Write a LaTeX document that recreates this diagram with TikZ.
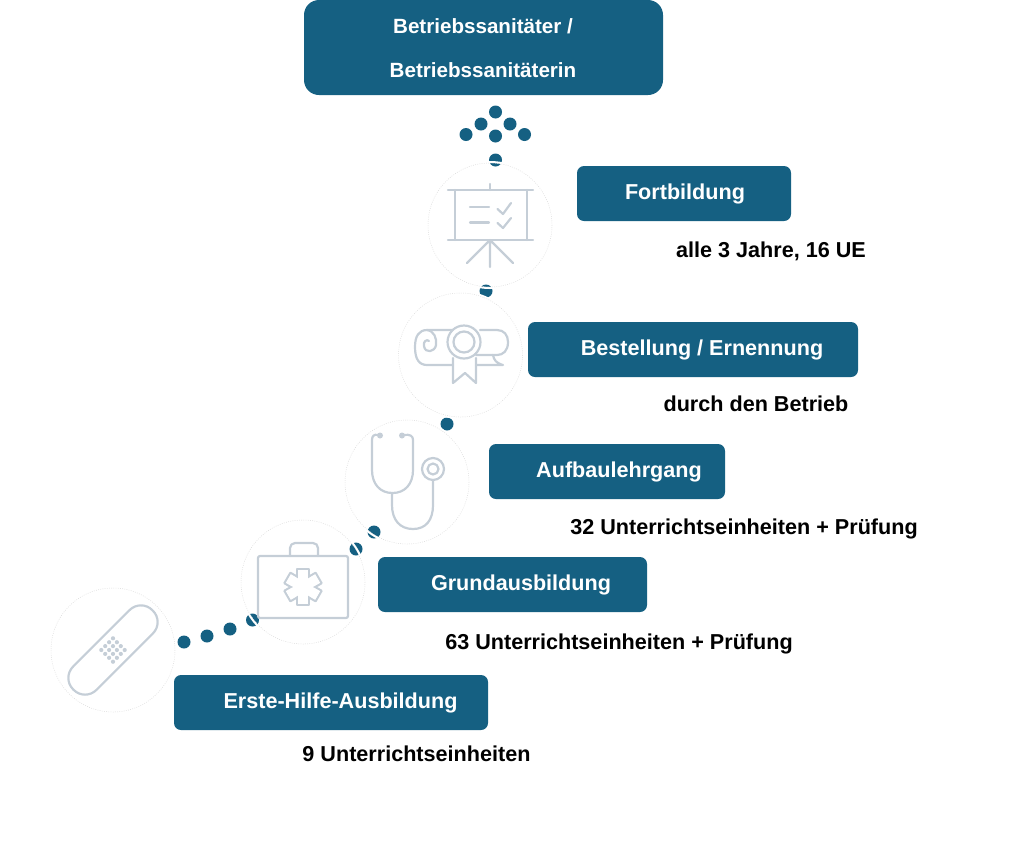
\documentclass[tikz,border=0pt]{standalone}
\usepackage{fontspec}
\usetikzlibrary{calc}
\setmainfont{Liberation Sans}
\definecolor{boxblue}{HTML}{156082}
\definecolor{icon}{HTML}{C5CED7}
\definecolor{ringc}{HTML}{DADADA}
\tikzset{
  bluebox/.style={fill=boxblue,draw=none,rounded corners=7pt,inner sep=0pt},
  boxtext/.style={text=white,font=\fontsize{21.6}{23}\selectfont\bfseries,inner sep=0pt},
  toptext/.style={text=white,font=\fontsize{20.6}{22}\selectfont\bfseries,inner sep=0pt},
  captext/.style={text=black,font=\fontsize{21.6}{23}\selectfont\bfseries,inner sep=0pt},
  pathdot/.style={circle,fill=boxblue,minimum size=13pt,inner sep=0pt},
  halo/.style={draw=white,line width=2pt},
  ring/.style={draw=ringc,line width=0.5pt,dash pattern=on 0.8pt off 1.4pt},
  ico/.style={draw=icon,line width=2.2pt,line cap=round,line join=round}
}
\begin{document}
\begin{tikzpicture}[x=1pt,y=-1pt]
\useasboundingbox (0,0) rectangle (1024,849);
% boxes
\fill[bluebox,rounded corners=15pt] (304,0) rectangle (663,95);
\fill[bluebox] (577,166) rectangle (791,221);
\fill[bluebox] (528,322) rectangle (858,377);
\fill[bluebox] (489,444) rectangle (725,499);
\fill[bluebox] (378,557) rectangle (647,612);
\fill[bluebox] (174,675) rectangle (488,730);
\node[toptext] (t1) at (483,26.5) {Betriebssanitäter /};
\node[toptext] (t2) at (483,70.5) {Betriebssanitäterin};
\node[boxtext] (l1) at (685,194) {Fortbildung};
\node[boxtext] (l2) at (702,349.5) {Bestellung / Ernennung};
\node[boxtext] (l3) at (619,472) {Aufbaulehrgang};
\node[boxtext] (l4) at (521,585) {Grundausbildung};
\node[boxtext] (l5) at (340.5,702.5) {Erste-Hilfe-Ausbildung};
\node[captext] (c1) at (771,251) {alle 3 Jahre, 16 UE};
\node[captext] (c2) at (756,404) {durch den Betrieb};
\node[captext] (c3) at (744,529) {32 Unterrichtseinheiten + Prüfung};
\node[captext] (c4) at (619,644) {63 Unterrichtseinheiten + Prüfung};
\node[captext] (c5) at (416.5,754) {9 Unterrichtseinheiten};
% dots
\foreach \n/\x/\y in {a/495.5/112,b/481/124,c/510/124,d/466/134.5,e/495.5/136,f/524.5/134.5,g/495.5/160,h/486/291,i/447/424,j/374/532,k/356/549,m/252.5/620,o/230/629,p/207/636,q/184/642}
  \node[pathdot] (d\n) at (\x,\y) {};
% rings
\foreach \n/\x/\y in {r1/490/225,r2/460.5/355,r3/407/482,r4/303/582,r5/113/650}{
  \draw[halo] (\x,\y) circle (63);
  \draw[ring] (\x,\y) circle (62);
  \coordinate (\n) at (\x,\y);
}
% presentation board
\draw[ico] (448,190) -- (533,190) (448,240) -- (533,240) (455,190) -- (455,240) (527,190) -- (527,240) (490,184) -- (490,190);
\draw[ico] (490,240) -- (467,263) (490,240) -- (513,263) (490,240) -- (490,267);
\draw[ico] (470,207) -- (489,207) (470,222.5) -- (489,222.5);
\draw[ico] (497.5,209) -- (503,214) -- (511,203) (497.5,223) -- (503,228) -- (511,218);
% diploma
\draw[ico] (453,330) -- (427,330) .. controls (419,330) and (415,336) .. (415,347) .. controls (415,359) and (419,365) .. (427,365) -- (453,365);
\draw[ico] (427,330) .. controls (434,331) and (437,338) .. (436,345) .. controls (435,352) and (425,354) .. (424,346) .. controls (423,341) and (427,339) .. (429,341);
\draw[ico] (480,330) -- (497,330) .. controls (504,330) and (508,335) .. (508,342) .. controls (508,351) and (503,355) .. (497,355) -- (476,355);
\draw[ico] (493,355) .. controls (494,360) and (496,363) .. (503,365) -- (476,365);
\draw[ico] (453,358) -- (453,383) -- (465,373) -- (476,383) -- (476,358);
\draw[ico,fill=white,dash pattern=on 2pt off 0.4pt] (464,342) circle (16.5);
\draw[ico] (464,342) circle (10.5);
% stethoscope
\draw[ico] (378,435) .. controls (374,434) and (372,436) .. (372,440) -- (372,470) .. controls (372,484) and (380,493) .. (392.5,493) .. controls (405,493) and (413,484) .. (413,470) -- (413,440) .. controls (413,436) and (410,434) .. (404,435);
\draw[ico] (392,493) -- (392,505) .. controls (392,520) and (400,529) .. (413,529) .. controls (426,529) and (433,520) .. (433,505) -- (433,480);
\fill[icon] (380,435.5) circle (3) (402,435.5) circle (3);
\draw[ico] (433,469) circle (11) (433,469) circle (5.5);
% first aid kit
\draw[ico,rounded corners=2pt] (258,556) rectangle (348,618);
\draw[ico,rounded corners=5pt] (290,556) -- (290,543) -- (318,543) -- (318,556);
\foreach \a in {0,60,120}
  \draw[ico,rotate around={\a:(303,587)}] (297,569) rectangle (309,605);
\foreach \a in {0,60,120}
  \fill[white,rotate around={\a:(303,587)}] (298.1,570.1) rectangle (307.9,603.9);
% plaster
\node[draw=icon,line width=2.2pt,rounded corners=16pt,minimum width=112pt,minimum height=33pt,rotate=45,inner sep=0pt] (plaster) at (113,650) {};
\foreach \i in {-1.5,-0.5,0.5,1.5}
  \foreach \j in {-1.5,-0.5,0.5,1.5}
    \fill[icon] ($(113,650)+({(\i+\j)*3.9},{(\i-\j)*3.9})$) circle (2.1);
\end{tikzpicture}
\end{document}
